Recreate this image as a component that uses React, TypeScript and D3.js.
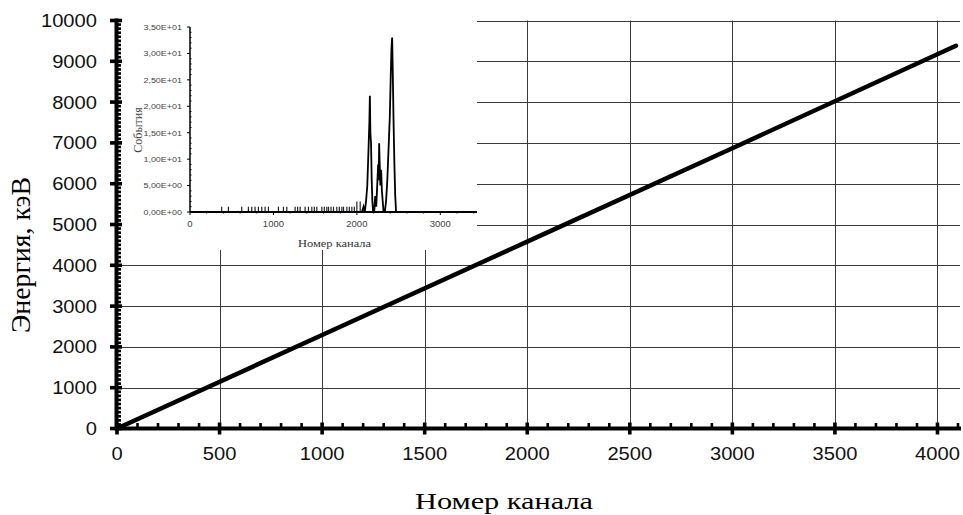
import React, { useRef, useEffect } from "react";
import * as d3 from "d3";

// main chart: channel -> energy calibration
const xTicks = [0, 500, 1000, 1500, 2000, 2500, 3000, 3500, 4000];
const yTicks = [0, 1000, 2000, 3000, 4000, 5000, 6000, 7000, 8000, 9000, 10000];
const calibChannels = [0, 1000, 2000, 3000, 4090];
const calibEnergy = [0, 2290, 4580, 6870, 9380];

// inset: spectrum
const insetXTicks = [0, 1000, 2000, 3000];
const insetYTicks = [0, 5, 10, 15, 20, 25, 30, 35];
const insetYLabels = ["0,00E+00", "5,00E+00", "1,00E+01", "1,50E+01", "2,00E+01", "2,50E+01", "3,00E+01", "3,50E+01"];
const blipChannels = [380, 460, 620, 700, 740, 780, 820, 860, 900, 940, 1060, 1120, 1160, 1260, 1290, 1320, 1380, 1420, 1460, 1490, 1520, 1580, 1610, 1640, 1660, 1690, 1720, 1760, 1790, 1820, 1840, 1880, 1910, 1940, 1970, 2000, 2040];
const blipCounts = [1, 1, 1, 1, 1, 1, 1, 1, 1, 1, 1, 1, 1, 1, 1, 1, 1, 1, 1, 1, 1, 1, 1, 1, 1, 1, 1, 1, 1, 1, 1, 1, 1, 1, 1, 2, 2];
const peakChannels = [2060, 2080, 2095, 2110, 2125, 2140, 2150, 2156, 2162, 2170, 2178, 2186, 2195, 2208, 2220, 2232, 2244, 2255, 2262, 2267, 2274, 2282, 2291, 2300, 2310, 2320, 2335, 2350, 2365, 2380, 2395, 2405, 2415, 2423, 2430, 2440, 2450, 2460, 2470];
const peakCounts = [0, 1, 0, 2, 5, 12, 17, 22, 15, 13, 6, 2, 0, 0, 3, 1, 5, 9, 6, 13, 9, 5, 8, 4, 2, 0, 0, 2, 6, 12, 18, 25, 31, 33, 27, 17, 9, 3, 0];

const SX = 1.12; // picture is a little wider than tall

const App = () => {
  const ref = useRef<SVGSVGElement>(null);

  useEffect(() => {
    const svg = d3.select(ref.current);
    svg.selectAll("*").remove();

    const x = d3.scaleLinear().domain([0, 4100]).range([117, 958]);
    const y = d3.scaleLinear().domain([0, 10000]).range([428.5, 20.5]);
    const serif = "'Liberation Serif', 'Times New Roman', serif";

    // grid
    const grid = svg.append("g").attr("stroke", "#3a3a3a").attr("stroke-width", 1);
    yTicks.slice(1).forEach((t) => {
      grid.append("line").attr("x1", 117).attr("x2", 960)
        .attr("y1", Math.round(y(t)) + 0.5).attr("y2", Math.round(y(t)) + 0.5);
    });
    xTicks.slice(1).forEach((t) => {
      grid.append("line").attr("y1", y(10000)).attr("y2", y(0))
        .attr("x1", Math.round(x(t)) + 0.5).attr("x2", Math.round(x(t)) + 0.5);
    });

    // inset (drawn before the main axes so the axis stays on top)
    const ins = svg.append("g");
    ins.append("rect").attr("x", 119).attr("y", 0).attr("width", 358).attr("height", 250).attr("fill", "#fff");

    const ix = d3.scaleLinear().domain([0, 3440]).range([190, 477]);
    const iy = d3.scaleLinear().domain([0, 35]).range([212, 27]);

    ins.selectAll(".blip").data(blipCounts).enter().append("line").attr("class", "blip")
      .attr("x1", (d, i) => ix(blipChannels[i])).attr("x2", (d, i) => ix(blipChannels[i]))
      .attr("y1", iy(0)).attr("y2", (d) => iy(d))
      .attr("stroke", "#222").attr("stroke-width", 1.2);

    const pline = d3.line<number>().x((d, i) => ix(peakChannels[i])).y((d) => iy(d));
    ins.append("path").datum(peakCounts).attr("d", pline).attr("fill", "none")
      .attr("stroke", "#000").attr("stroke-width", 1.8).attr("stroke-linejoin", "miter");

    ins.append("line").attr("x1", ix(0)).attr("x2", 477).attr("y1", iy(0)).attr("y2", iy(0))
      .attr("stroke", "#000").attr("stroke-width", 2);
    ins.append("line").attr("x1", ix(0)).attr("x2", ix(0)).attr("y1", iy(35)).attr("y2", iy(0))
      .attr("stroke", "#000").attr("stroke-width", 1.5);
    d3.range(0, 36, 1).forEach((t) => {
      const major = t % 5 === 0;
      ins.append("line").attr("x1", major ? ix(0) - 3 : ix(0)).attr("x2", ix(0) + (major ? 0 : 1.5))
        .attr("y1", iy(t)).attr("y2", iy(t)).attr("stroke", "#000").attr("stroke-width", 1);
    });
    d3.range(0, 3401, 200).forEach((t) => {
      const major = t % 1000 === 0;
      ins.append("line").attr("x1", ix(t)).attr("x2", ix(t))
        .attr("y1", iy(0)).attr("y2", iy(0) + (major ? 3 : 1.5)).attr("stroke", "#000").attr("stroke-width", 1);
    });

    const insetFont = "'Liberation Sans', Arial, sans-serif";
    insetYTicks.forEach((t, i) => {
      ins.append("text").attr("transform", `translate(182,${iy(t)}) scale(${SX},1)`)
        .attr("text-anchor", "end").attr("dy", "0.35em")
        .attr("font-family", insetFont).attr("font-size", 8).attr("fill", "#444").text(insetYLabels[i]);
    });
    insetXTicks.forEach((t) => {
      ins.append("text").attr("transform", `translate(${ix(t)},227) scale(${SX},1)`)
        .attr("text-anchor", "middle")
        .attr("font-family", insetFont).attr("font-size", 8.5).attr("fill", "#444").text(t);
    });
    ins.append("text").attr("x", 298).attr("y", 247)
      .attr("textLength", 73).attr("lengthAdjust", "spacingAndGlyphs")
      .attr("font-family", serif).attr("font-size", 11).attr("fill", "#333").text("Номер канала");
    ins.append("text").attr("transform", `translate(142,130) scale(${SX},1) rotate(-90)`)
      .attr("text-anchor", "middle")
      .attr("font-family", serif).attr("font-size", 12).attr("fill", "#444").text("События");

    // calibration line
    const line = d3.line<number>().x((d, i) => x(calibChannels[i])).y((d) => y(d));
    svg.append("path").datum(calibEnergy).attr("d", line).attr("fill", "none")
      .attr("stroke", "#000").attr("stroke-width", 4.5).attr("stroke-linecap", "round");

    // axes
    const ax = svg.append("g").attr("fill", "#000");
    ax.append("rect").attr("x", 114.5).attr("y", y(10000) - 2).attr("width", 4).attr("height", y(0) - y(10000) + 4);
    ax.append("rect").attr("x", 115).attr("y", y(0) - 2).attr("width", 846).attr("height", 4);
    d3.range(0, 10001, 100).forEach((t) => {
      if (t % 1000 === 0) {
        ax.append("rect").attr("x", 110).attr("y", y(t) - 1.8).attr("width", 12).attr("height", 3.6);
      } else {
        ax.append("rect").attr("x", 117).attr("y", y(t) - 1.3).attr("width", 4).attr("height", 2.6);
      }
    });
    d3.range(0, 4101, 100).forEach((t) => {
      if (t % 500 === 0) {
        ax.append("rect").attr("x", x(t) - 1.8).attr("y", y(0) - 6).attr("width", 3.6).attr("height", 12);
      } else {
        ax.append("rect").attr("x", x(t) - 1.3).attr("y", y(0) - 5.5).attr("width", 2.6).attr("height", 4);
      }
    });

    const tickFont = "'Liberation Sans', Arial, sans-serif";
    yTicks.forEach((t) => {
      svg.append("text").attr("transform", `translate(97,${y(t)}) scale(${SX},1)`)
        .attr("text-anchor", "end").attr("dy", "0.36em")
        .attr("font-family", tickFont).attr("font-size", 18).attr("fill", "#111").text(t);
    });
    xTicks.forEach((t) => {
      svg.append("text").attr("transform", `translate(${x(t)},460) scale(${SX},1)`)
        .attr("text-anchor", "middle")
        .attr("font-family", tickFont).attr("font-size", 18).attr("fill", "#111").text(t);
    });

    svg.append("text").attr("x", 415).attr("y", 509)
      .attr("textLength", 178).attr("lengthAdjust", "spacingAndGlyphs")
      .attr("font-family", serif).attr("font-size", 24).attr("fill", "#000").text("Номер канала");
    svg.append("text").attr("transform", `translate(30,333) scale(${SX},1) rotate(-90)`)
      .attr("textLength", 156).attr("lengthAdjust", "spacingAndGlyphs")
      .attr("font-family", serif).attr("font-size", 24).attr("fill", "#000").text("Энергия, кэВ");
  });

  return (
    <div>
      <svg ref={ref} width={963} height={515}
        style={{ position: "absolute", left: 0, top: 0, background: "#fff" }}></svg>
    </div>
  );
};

export default App;
